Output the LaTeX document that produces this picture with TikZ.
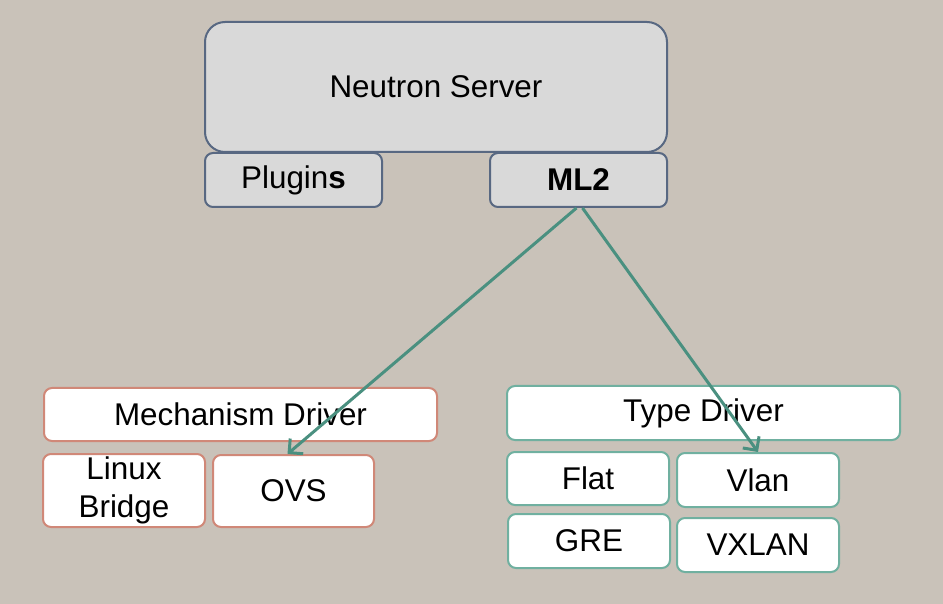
\documentclass[tikz,border=0pt]{standalone}
\usepackage{fontspec}
\setmainfont{Liberation Sans}
\usetikzlibrary{arrows.meta}
\definecolor{bgtaupe}{RGB}{201,194,185}
\definecolor{servergray}{RGB}{217,217,217}
\definecolor{serverslate}{RGB}{88,104,130}
\definecolor{mechsalmon}{RGB}{208,136,120}
\definecolor{typeteal}{RGB}{112,176,160}
\definecolor{arrowteal}{RGB}{74,144,128}

\begin{document}
\begin{tikzpicture}[x=0.5pt,y=-0.5pt,
    box/.style={draw,line width=1pt,rounded corners=4pt,inner sep=0pt,align=center,
      font=\fontsize{15.7}{19}\selectfont},
    serverbox/.style={box,draw=serverslate,fill=servergray},
    mechbox/.style={box,draw=mechsalmon,fill=white},
    typebox/.style={box,draw=typeteal,fill=white},
    link/.style={arrowteal,line width=1.5pt,-{Straight Barb[length=5pt,width=10pt]}}]
    \fill[bgtaupe] (0,0) rectangle (943,604);

    % Neutron server with its plugins
    \node[serverbox,rounded corners=10pt,minimum width=231pt,minimum height=65pt] (server) at (436,87) {Neutron Server};
    \node[serverbox,minimum width=88.5pt,minimum height=27pt] (plugins) at (293.5,180) {Plugin\textbf{s}};
    \node[serverbox,minimum width=88.5pt,minimum height=27pt] (mltwo) at (578.5,180) {\textbf{ML2}};

    % Mechanism drivers
    \node[mechbox,minimum width=196.5pt,minimum height=26.5pt] (mech) at (240.5,414.5) {Mechanism Driver};
    \node[mechbox,minimum width=81pt,minimum height=36.5pt] (linux) at (124,490.5) {Linux\\Bridge};
    \node[mechbox,minimum width=80.5pt,minimum height=36pt] (ovs) at (293.5,491) {OVS};

    % Type drivers
    \node[typebox,minimum width=196.5pt,minimum height=27pt] (type) at (703.5,413) {Type Driver};
    \node[typebox,minimum width=81pt,minimum height=26.5pt] (flat) at (588,478.5) {Flat};
    \node[typebox,minimum width=81pt,minimum height=27pt] (vlan) at (758,480) {Vlan};
    \node[typebox,minimum width=81pt,minimum height=27pt] (gre) at (589,541) {GRE};
    \node[typebox,minimum width=81pt,minimum height=27pt] (vxlan) at (758,545) {VXLAN};

    % ML2 loads the drivers
    \draw[link] ([xshift=-1pt]mltwo.south) -- ([xshift=-3pt]ovs.north);
    \draw[link] ([xshift=2pt]mltwo.south) -- (vlan.north);
\end{tikzpicture}
\end{document}
